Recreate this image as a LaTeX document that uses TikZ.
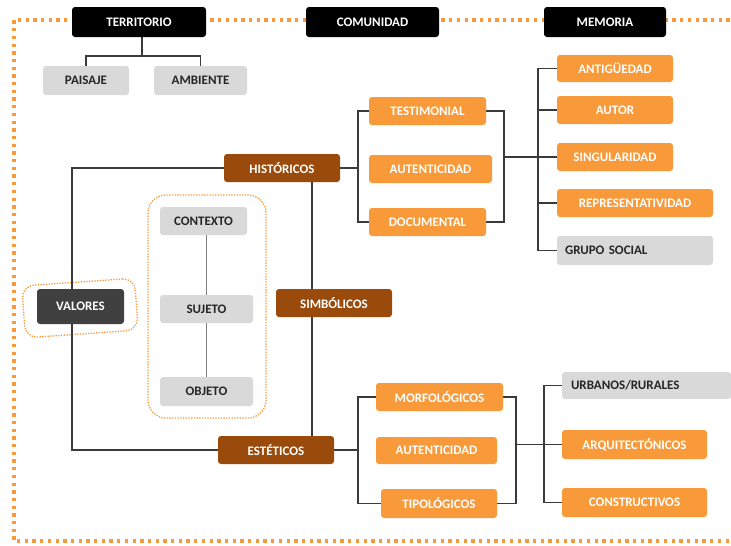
\documentclass[tikz,border=0pt]{standalone}
\usepackage{fontspec}
\setmainfont{Carlito}
\usetikzlibrary{backgrounds}
\definecolor{orng}{HTML}{F89A3A}
\definecolor{brwn}{HTML}{9A4A0B}
\definecolor{lgry}{HTML}{D9D9D9}
\definecolor{dgry}{HTML}{404040}
\definecolor{lnc}{HTML}{3A3A3A}
\definecolor{gtxt}{HTML}{262626}
\definecolor{dotc}{HTML}{F89A3A}
\begin{document}
\begin{tikzpicture}[x=1pt,y=-1pt,
  font=\bfseries\fontsize{13}{15}\selectfont,
  box/.style={rounded corners=3pt, inner sep=0pt, align=center},
  blk/.style={box, fill=black, text=white},
  org/.style={box, fill=orng, text=white},
  brn/.style={box, fill=brwn, text=white},
  gry/.style={box, fill=lgry, text=gtxt},
  drk/.style={box, fill=dgry, text=white},
  conn/.style={draw=lnc, line width=1.5pt},
  cline/.style={draw=gray, line width=1.2pt},
  bigdots/.style={draw=dotc, line width=3.3pt, dash pattern=on 3.3pt off 4.4pt},
  smalldots/.style={draw=dotc, line width=1.3pt, dash pattern=on 1.3pt off 1.4pt}]
\useasboundingbox (0,0) rectangle (731,546);
% nodes
\node[blk, minimum width=134pt, minimum height=30pt] (terr) at (139,22) {TERRITORIO};
\node[blk, minimum width=133pt, minimum height=30pt] (comu) at (372.5,22) {COMUNIDAD};
\node[blk, minimum width=122pt, minimum height=30pt] (memo) at (605,22) {MEMORIA};
\node[gry, minimum width=86pt, minimum height=29pt] (pais) at (86,80.5) {PAISAJE};
\node[gry, minimum width=93pt, minimum height=29pt] (ambi) at (200.5,80.5) {AMBIENTE};
\node[brn, minimum width=116pt, minimum height=28pt] (hist) at (282,168) {HISTÓRICOS};
\node[org, minimum width=117pt, minimum height=28pt] (testi) at (427.5,111) {TESTIMONIAL};
\node[org, minimum width=123pt, minimum height=28pt] (aut1) at (430.5,169) {AUTENTICIDAD};
\node[org, minimum width=117pt, minimum height=28pt] (docu) at (427.5,222) {DOCUMENTAL};
\node[org, minimum width=116pt, minimum height=27pt] (anti) at (615,68.5) {ANTIGÜEDAD};
\node[org, minimum width=116pt, minimum height=28pt] (auto) at (615,110) {AUTOR};
\node[org, minimum width=116pt, minimum height=28pt] (sing) at (615,157) {SINGULARIDAD};
\node[org, minimum width=156pt, minimum height=28pt] (repr) at (635,203) {REPRESENTATIVIDAD};
\node[gry, minimum width=156pt, minimum height=29pt, text width=140pt, align=left] (grup) at (635,250.5) {GRUPO SOCIAL};
\node[drk, minimum width=87pt, minimum height=35pt] (valo) at (80.5,306.5) {VALORES};
\node[gry, minimum width=87pt, minimum height=28pt] (ctx) at (203.5,221) {CONTEXTO};
\node[gry, minimum width=93pt, minimum height=28pt] (suj) at (206.5,309) {SUJETO};
\node[gry, minimum width=93pt, minimum height=29pt] (obj) at (206.5,391.5) {OBJETO};
\node[brn, minimum width=116pt, minimum height=28pt] (simb) at (334,303) {SIMBÓLICOS};
\node[brn, minimum width=116pt, minimum height=28pt] (este) at (276,450) {ESTÉTICOS};
\node[org, minimum width=127pt, minimum height=28pt] (morf) at (439.5,397) {MORFOLÓGICOS};
\node[org, minimum width=121pt, minimum height=27pt] (aut2) at (436.5,450.5) {AUTENTICIDAD};
\node[org, minimum width=116pt, minimum height=29pt] (tipo) at (439,503.5) {TIPOLÓGICOS};
\node[gry, minimum width=169pt, minimum height=27pt, text width=151pt, align=left] (urba) at (646.5,385.5) {URBANOS/RURALES};
\node[org, minimum width=145pt, minimum height=29pt] (arqu) at (634.5,444.5) {ARQUITECTÓNICOS};
\node[org, minimum width=145pt, minimum height=29pt] (cons) at (634.5,502.5) {CONSTRUCTIVOS};
% helper coordinates
\coordinate (tj) at (142,56);
\coordinate (lx) at (72,0);
\coordinate (vx) at (312,0);
\coordinate (hb) at (358,0);
\coordinate (rb) at (504,0);
\coordinate (mb) at (538,0);
\coordinate (rb2) at (516,0);
\coordinate (mb2) at (544,0);
\begin{scope}[on background layer]
\clip (0,0) rectangle (731,546);
\fill[white] (0,0) rectangle (731,546);
\draw[bigdots] (745,20) -- (14,20) -- (14,541) -- (745,541);
\draw[smalldots, rounded corners=18pt] (148,195) rectangle (266,418);
\node[smalldots, rounded corners=12pt, minimum width=113pt, minimum height=52pt, rotate=4] (ring) at (80,308) {};
% connectors
\draw[conn] (terr.south -| tj) -- (tj);
\draw[conn] (pais.north) |- (tj) -| (ambi.north);
\draw[conn] (hist.west) -| (lx |- este.west) -- (este.west);
\draw[conn] (vx |- hist.south) -- (vx |- este.north);
\draw[conn] (hist.east) -- (hb |- hist.east);
\draw[conn] (testi.west) -| (hb |- docu.west) -- (docu.west);
\draw[conn] (testi.east) -| (rb |- docu.east) -- (docu.east);
\draw[conn] (rb |- sing.west) -- (sing.west);
\draw[conn] (anti.west) -| (mb |- grup.west) -- (grup.west);
\draw[conn] (mb |- auto.west) -- (auto.west);
\draw[conn] (mb |- repr.west) -- (repr.west);
\draw[conn] (este.east) -- (hb |- este.east);
\draw[conn] (morf.west) -| (hb |- tipo.west) -- (tipo.west);
\draw[conn] (morf.east) -| (rb2 |- tipo.east) -- (tipo.east);
\draw[conn] (rb2 |- arqu.west) -- (arqu.west);
\draw[conn] (urba.west) -| (mb2 |- cons.west) -- (cons.west);
\draw[cline] (ctx.south -| suj.north) -- (suj.north);
\draw[cline] (suj.south) -- (obj.north);
\end{scope}
\end{tikzpicture}
\end{document}
